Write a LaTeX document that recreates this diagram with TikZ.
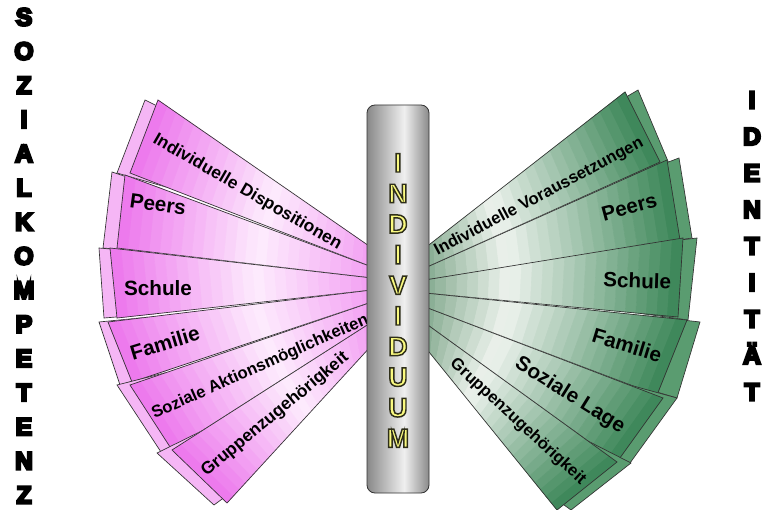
\documentclass[tikz,border=0pt]{standalone}
\usepackage{fontspec}
\setmainfont{Liberation Sans}
\usetikzlibrary{calc}
\definecolor{pinkS}{RGB}{236,118,236}
\definecolor{pinkM}{RGB}{243,158,243}
\definecolor{pinkL}{RGB}{253,236,253}
\definecolor{pinkB}{RGB}{245,182,245}
\definecolor{greenI}{RGB}{132,170,143}
\definecolor{greenL}{RGB}{238,243,238}
\definecolor{greenD}{RGB}{58,133,86}
\definecolor{greenB}{RGB}{90,156,112}
\definecolor{letteryellow}{RGB}{250,250,128}
\pgfdeclarehorizontalshading{cylshade}{100bp}{color(0bp)=(black!80); color(12bp)=(black!64); color(55bp)=(black!6); color(78bp)=(black!52); color(100bp)=(black!94)}
% outlined / emboldened text via PDF text render mode 2 (fill + stroke)
\newcommand\heavytext[1]{\special{pdf:literal direct 2 Tr 1.8 w 0 0 0 RG 0 0 0 rg}#1\special{pdf:literal direct 0 Tr}}
\newcommand\yellowtext[1]{\special{pdf:literal direct 2 Tr 1.1 w 0.18 0.18 0.1 RG 0.98 0.98 0.5 rg}#1\special{pdf:literal direct 0 Tr}}
\tikzset{
  bladeline/.style={draw=black!80, line width=0.5pt},
  lab/.style={font=\fontsize{12.5pt}{12.5pt}\selectfont\bfseries, anchor=base, inner sep=0pt},
  biglab/.style={font=\fontsize{15.5pt}{15.5pt}\selectfont\bfseries, anchor=base, inner sep=0pt},
  sideletter/.style={font=\fontsize{18.5pt}{18.5pt}\selectfont\bfseries, anchor=base, inner sep=0pt},
  indivletter/.style={font=\fontsize{20pt}{20pt}\selectfont\bfseries, anchor=base, inner sep=0pt, text=letteryellow},
}
% #1 prefix, #2 back colour, #3 inner colour, #4 middle colour, #5 outer colour, #6 middle position
\newcommand\fanpair[6]{%
  \filldraw[fill=#2, bladeline] (#1bt) -- (#1bb) -- ($(#1ob)!0.15!(#1ib)$) -- ($(#1ot)!0.15!(#1it)$) -- cycle;
  \foreach \k in {0,...,23}{%
    \pgfmathsetmacro\sa{\k/24}%
    \pgfmathsetmacro\sb{(\k+1)/24}%
    \pgfmathsetmacro\sm{(\k+0.5)/24}%
    \ifdim\sm pt<#6pt
      \pgfmathtruncatemacro\pc{100-100*\sm/#6}%
      \colorlet{stripcol}{#3!\pc!#4}%
    \else
      \pgfmathtruncatemacro\pc{100-100*(\sm-#6)/(1-#6)}%
      \colorlet{stripcol}{#4!\pc!#5}%
    \fi
    \filldraw[fill=stripcol, draw=stripcol, line width=0.4pt]
      ($(#1it)!\sa!(#1ot)$) -- ($(#1it)!\sb!(#1ot)$) -- ($(#1ib)!\sb!(#1ob)$) -- ($(#1ib)!\sa!(#1ob)$) -- cycle;
  }%
  \draw[bladeline] (#1it) -- (#1ot) -- (#1ob) -- (#1ib);
}
\begin{document}
\begin{tikzpicture}[x=0.75pt,y=-0.75pt]
\useasboundingbox (0,0) rectangle (783,510);
\fill[white] (0,0) rectangle (783,510);

% ---------- left fan coordinates ----------
\coordinate (L1it) at (372,248); \coordinate (L1ib) at (372,267);
\coordinate (L1ob) at (130,173); \coordinate (L1ot) at (158,100);
\coordinate (L1bt) at (145,100); \coordinate (L1bb) at (117,173);

\coordinate (L2it) at (372,267); \coordinate (L2ib) at (372,278);
\coordinate (L2ob) at (117,248); \coordinate (L2ot) at (125,175);
\coordinate (L2bt) at (112,172); \coordinate (L2bb) at (103,248);

\coordinate (L3it) at (372,278); \coordinate (L3ib) at (372,290);
\coordinate (L3ob) at (117,318); \coordinate (L3ot) at (110,248);
\coordinate (L3bt) at (99,248);  \coordinate (L3bb) at (104,318);

\coordinate (L4it) at (372,290); \coordinate (L4ib) at (372,302);
\coordinate (L4ob) at (132,382); \coordinate (L4ot) at (108,322);
\coordinate (L4bt) at (99,322);  \coordinate (L4bb) at (120,385);

\coordinate (L5it) at (372,302); \coordinate (L5ib) at (372,322);
\coordinate (L5ob) at (172,450); \coordinate (L5ot) at (130,385);
\coordinate (L5bt) at (117,385); \coordinate (L5bb) at (161,452);

\coordinate (L6it) at (372,322); \coordinate (L6ib) at (372,345);
\coordinate (L6ob) at (227,503); \coordinate (L6ot) at (172,450);
\coordinate (L6bt) at (157,453); \coordinate (L6bb) at (214,505);

% ---------- right fan coordinates ----------
\coordinate (R1it) at (425,248); \coordinate (R1ib) at (425,268);
\coordinate (R1ob) at (660,162); \coordinate (R1ot) at (625,92);
\coordinate (R1bt) at (638,90);  \coordinate (R1bb) at (670,166);

\coordinate (R2it) at (425,268); \coordinate (R2ib) at (425,280);
\coordinate (R2ob) at (680,240); \coordinate (R2ot) at (667,160);
\coordinate (R2bt) at (679,158); \coordinate (R2bb) at (692,238);

\coordinate (R3it) at (425,280); \coordinate (R3ib) at (425,293);
\coordinate (R3ob) at (678,317); \coordinate (R3ot) at (683,238);
\coordinate (R3bt) at (697,238); \coordinate (R3bb) at (688,320);

\coordinate (R4it) at (425,293); \coordinate (R4ib) at (425,307);
\coordinate (R4ob) at (657,395); \coordinate (R4ot) at (687,320);
\coordinate (R4bt) at (700,322); \coordinate (R4bb) at (677,398);

\coordinate (R5it) at (425,307); \coordinate (R5ib) at (425,323);
\coordinate (R5ob) at (617,462); \coordinate (R5ot) at (663,398);
\coordinate (R5bt) at (677,398); \coordinate (R5bb) at (630,463);

\coordinate (R6it) at (425,323); \coordinate (R6ib) at (425,347);
\coordinate (R6ob) at (557,510); \coordinate (R6ot) at (617,462);
\coordinate (R6bt) at (631,463); \coordinate (R6bb) at (571,510);

% ---------- blades ----------
\foreach \b in {L1,L2,L3,L4,L5,L6}{\fanpair{\b}{pinkB}{pinkM}{pinkL}{pinkS}{0.45}}
\foreach \b in {R1,R2,R3,R4,R5,R6}{\fanpair{\b}{greenB}{greenI}{greenL}{greenD}{0.33}}

% ---------- labels ----------
\node[lab, font=\fontsize{13pt}{13pt}\selectfont\bfseries, rotate=-30] (labL1) at (245,196) {Individuelle Dispositionen};
\node[biglab, rotate=-8] (labL2) at (157,211) {Peers};
\node[biglab] (labL3) at (158,296) {Schule};
\node[biglab, rotate=17] (labL4) at (167,350) {Familie};
\node[lab, rotate=24] (labL5) at (262,371) {Soziale Aktionsmöglichkeiten};
\node[lab, font=\fontsize{13pt}{13pt}\selectfont\bfseries, rotate=39.5] (labL6) at (278,418) {Gruppenzugehörigkeit};

\node[lab, rotate=28] (labR1) at (541,201) {Individuelle Voraussetzungen};
\node[biglab, rotate=15] (labR2) at (631,214) {Peers};
\node[biglab, rotate=-2] (labR3) at (637,288) {Schule};
\node[biglab, rotate=-17] (labR4) at (625,352) {Familie};
\node[biglab, rotate=-32] (labR5) at (567,400) {Soziale Lage};
\node[lab, rotate=-42.5] (labR6) at (515,425) {Gruppenzugehörigkeit};

% ---------- central cylinder ----------
\coordinate (cylA) at (367,105);
\coordinate (cylB) at (429,493);
\shade[shading=cylshade, draw=black!80, line width=0.6pt, rounded corners=6pt] (cylA) rectangle (cylB);

\foreach \l [count=\i from 0] in {I,N,D,I,V,I,D,U,U,M}
  \node[indivletter] (ind\i) at (398,{172+30.6*\i}) {\yellowtext{\l}};

% ---------- side words ----------
\foreach \l [count=\i from 0] in {S,O,Z,I,A,L,K,O,M,P,E,T,E,N,Z}
  \node[sideletter] (soz\i) at (24,{25.5+34.14*\i}) {\heavytext{\l}};
\foreach \l [count=\i from 0] in {I,D,E,N,T,I,T,Ä,T}
  \node[sideletter] (ide\i) at (752,{108.5+36.5*\i}) {\heavytext{\l}};
\end{tikzpicture}
\end{document}
